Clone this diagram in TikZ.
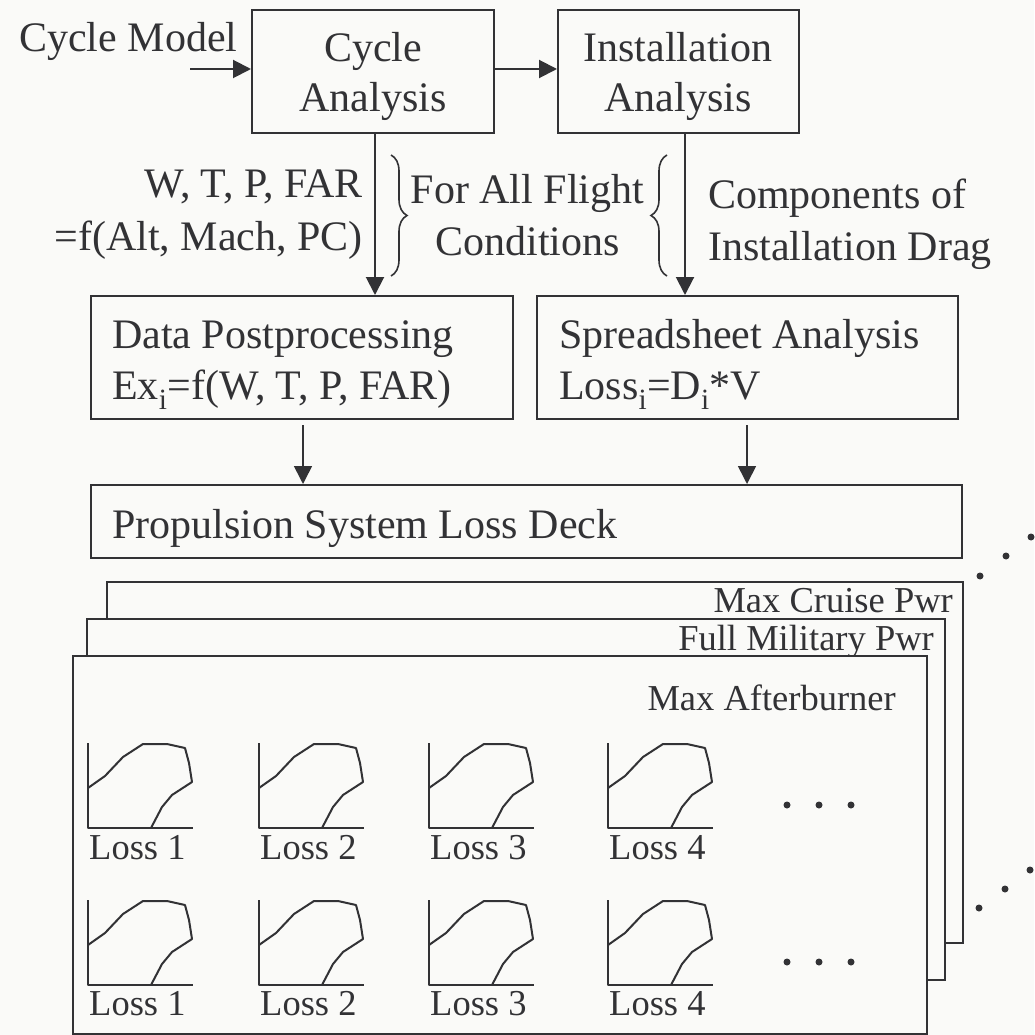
\documentclass[tikz,border=0pt]{standalone}
\usepackage{fontspec}
\setmainfont{Liberation Serif}
\usetikzlibrary{arrows.meta,decorations.pathreplacing}
\definecolor{ink}{RGB}{50,50,53}
\definecolor{paper}{RGB}{250,250,248}
\begin{document}
\begin{tikzpicture}[x=1pt,y=-1pt,
  box/.style={draw=ink,line width=2pt,rectangle,inner sep=0pt,fill=paper},
  big/.style={font=\fontsize{42}{50}\selectfont,text=ink,inner sep=0pt},
  small/.style={font=\fontsize{36.5}{44}\selectfont,text=ink,inner sep=0pt},
  flow/.style={draw=ink,line width=2pt,-{Triangle[length=18pt,width=18pt]}},
  brc/.style={draw=ink,line width=1.6pt,decorate,decoration={brace,amplitude=16pt}},
  curve/.style={draw=ink,line width=2pt,line join=round},
  dot/.style={circle,fill=ink,inner sep=0pt,minimum size=7pt},
  lossplot/.pic={
    \draw[curve] (0,-85) -- (0,0) -- (105,0);
    \draw[curve] (0,-40) -- (17,-52) -- (35,-71) -- (55,-84) -- (79,-84)
      -- (97,-80) -- (101,-65) -- (104,-46) -- (84,-33) -- (74,-21) -- (63,0);
  }
]
\fill[paper] (0,0) rectangle (1034,1035);
\useasboundingbox (0,0) rectangle (1034,1035);

% analysis boxes
\node[box,minimum width=242pt,minimum height=123pt] (cyc) at (373,71.5) {};
\node[box,minimum width=241pt,minimum height=123pt] (inst) at (678.5,71.5) {};
\node[big,anchor=base] (cyct1) at (373,62) {Cycle};
\node[big,anchor=base] (cyct2) at (373,112) {Analysis};
\node[big,anchor=base] (inst1) at (678,62) {Installation};
\node[big,anchor=base] (inst2) at (678,112) {Analysis};

% input
\node[big,anchor=base west] (model) at (19,52) {Cycle Model};
\coordinate (modelin) at (190,69);
\draw[flow] (modelin) -- (cyc.west |- modelin);
\draw[flow] (cyc.east |- modelin) -- (inst.west |- modelin);

% postprocessing boxes
\node[box,minimum width=422pt,minimum height=123pt] (data) at (302,357.5) {};
\node[box,minimum width=421pt,minimum height=123pt] (sheet) at (747.5,357.5) {};
\node[big,anchor=base west] (data1) at (112,348) {Data Postprocessing};
\node[big,anchor=base west] (data2) at (112,399) {Ex\textsubscript{i}=f(W, T, P, FAR)};
\node[big,anchor=base west] (sheet1) at (559,348) {Spreadsheet Analysis};
\node[big,anchor=base west] (sheet2) at (559,399) {Loss\textsubscript{i}=D\textsubscript{i}*V};

% vertical flows
\draw[flow] (cyc.south -| 375,0) -- (data.north -| 375,0);
\draw[flow] (inst.south -| 685,0) -- (sheet.north -| 685,0);

% flow annotations
\node[big,anchor=base east] (var1) at (363,197) {W, T, P, FAR};
\node[big,anchor=base east] (var2) at (363,250) {=f(Alt, Mach, PC)};
\node[big,anchor=base] (all1) at (527.5,203) {For All Flight};
\node[big,anchor=base] (all2) at (527.5,255) {Conditions};
\node[big,anchor=base west] (comp1) at (708,208) {Components of};
\node[big,anchor=base west] (comp2) at (708,260) {Installation Drag};
\coordinate (b1t) at (391,155);
\coordinate (b1b) at (391,276);
\coordinate (b2t) at (667,155);
\coordinate (b2b) at (667,276);
\draw[brc] (b1t) -- (b1b);
\draw[brc] (b2b) -- (b2t);

% loss deck
\node[box,minimum width=871pt,minimum height=73pt] (deck) at (526.5,521.5) {};
\node[big,anchor=base west] (deckt) at (112,538) {Propulsion System Loss Deck};
\draw[flow,line width=1.6pt,shorten <=5pt] (data.south -| 303,0) -- (deck.north -| 303,0);
\draw[flow,line width=1.6pt,shorten <=5pt] (sheet.south -| 747,0) -- (deck.north -| 747,0);

% stacked power settings
\node[box,minimum width=856pt,minimum height=361pt] (cruise) at (535,762.5) {};
\node[small,anchor=base east] (cruiset) at (953,612) {Max Cruise Pwr};
\node[box,minimum width=858pt,minimum height=361pt] (mil) at (516,799.5) {};
\node[small,anchor=base east] (milt) at (934,650) {Full Military Pwr};
\node[box,minimum width=854pt,minimum height=378pt] (ab) at (500,845) {};
\node[small,anchor=base east] (abt) at (896,710) {Max Afterburner};

% loss maps
\foreach \px/\k in {88/1,259/2,429/3,608/4}{
  \pic at (\px,828) {lossplot};
  \node[small,anchor=base west] (lossa\k) at (\px+1,859) {Loss \k};
  \pic at (\px,985) {lossplot};
  \node[small,anchor=base west] (lossb\k) at (\px+1,1015) {Loss \k};
}

% continuation dots
\foreach \dx [count=\i] in {787,819,851}{
  \node[dot] (ra\i) at (\dx,805) {};
  \node[dot] (rb\i) at (\dx,962) {};
}
\node[dot] (ua1) at (980,576) {};
\node[dot] (ua2) at (1006,556) {};
\node[dot] (ua3) at (1031,537) {};
\node[dot] (ub1) at (979,908) {};
\node[dot] (ub2) at (1005,889) {};
\node[dot] (ub3) at (1030,870) {};
\end{tikzpicture}
\end{document}
